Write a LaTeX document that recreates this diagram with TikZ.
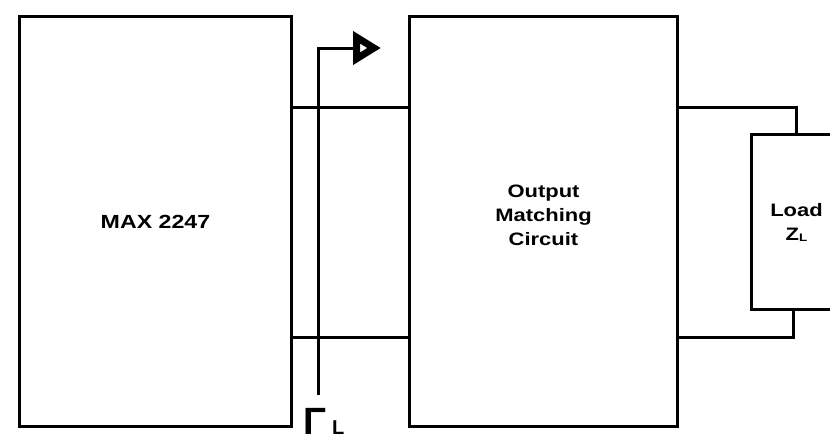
\documentclass[tikz,border=0pt]{standalone}
\usepackage{fontspec}
\setmainfont{Liberation Sans}
\newcommand{\widetxt}[1]{\scalebox{1.22}[1]{#1}}
\usetikzlibrary{arrows.meta,calc}
\begin{document}
\begin{tikzpicture}[x=1pt,y=-1pt,
  wire/.style={line width=3pt},
  blk/.style={draw,line width=3pt,inner sep=0pt,anchor=north west},
  lbl/.style={font=\bfseries\fontsize{18}{24}\selectfont,align=center}]
\useasboundingbox (0,0) rectangle (830,440);
\clip (0,0) rectangle (830,440);
\node[blk,minimum width=272pt,minimum height=410pt] (max) at (18,15) {};
\node[lbl,font=\bfseries\fontsize{19}{24}\selectfont] (maxt) at (max.center) {\widetxt{MAX 2247}};
\node[blk,minimum width=268pt,minimum height=410pt] (out) at (408,15) {};
\node[lbl] (outt) at ($(out.center)+(0,-6)$) {\widetxt{Output}\\\widetxt{Matching}\\\widetxt{Circuit}};
\node[blk,minimum width=90pt,minimum height=175pt] (load) at (750,133) {};
\node[lbl] (loadt) at (load.center) {\widetxt{Load}\\\widetxt{Z\raisebox{-1pt}{\fontsize{11}{11}\selectfont L}}};
\coordinate (ty) at (0,107);
\coordinate (by) at (0,337);
\coordinate (lt) at (796,0);
\coordinate (lb) at (793,0);
\draw[wire] (max.east |- ty) -- (out.west |- ty);
\draw[wire] (max.east |- by) -- (out.west |- by);
\draw[wire] (out.east |- ty) -| (lt |- load.north);
\draw[wire] (out.east |- by) -| (lb |- load.south);
\coordinate (g0) at (318,395);
\coordinate (g1) at (381,48);
\draw[wire,-{Triangle[open,length=28pt,width=32pt,line width=8pt]}] (g0) |- (g1);
\node[anchor=base west,inner sep=0pt,text depth=0pt,font=\bfseries] (gam) at (303,434)
  {\fontsize{38}{38}\selectfont Γ\hspace{6pt}\fontsize{20}{20}\selectfont L};
\end{tikzpicture}
\end{document}
